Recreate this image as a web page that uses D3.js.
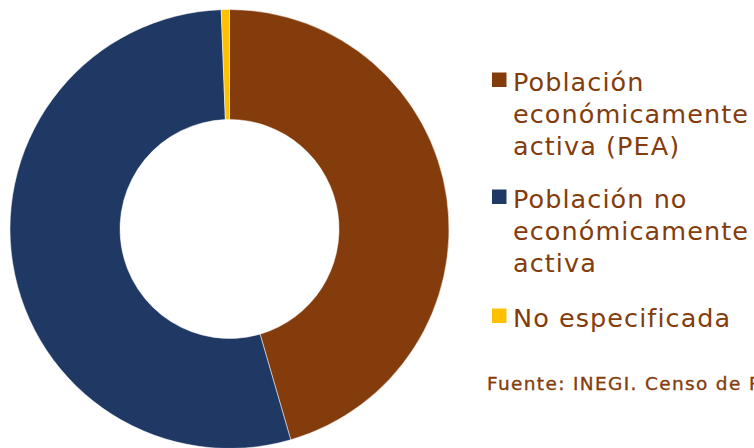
<!DOCTYPE html>
<html><head><meta charset="utf-8">
<script src="https://cdn.jsdelivr.net/npm/d3@7"></script>
<style>
html,body{margin:0;padding:0;background:#fff;overflow:hidden;width:754px;height:448px}
svg{display:block}
</style></head>
<body>
<svg id="chart" width="754" height="448"></svg>
<script>
const categories = ["Población económicamente activa (PEA)", "Población no económicamente activa", "No especificada"];
const legendLines = [["Población", "económicamente", "activa (PEA)"], ["Población no", "económicamente", "activa"], ["No especificada"]];
const values = [45.5, 53.9, 0.6];
const colors = ["#843C0C", "#1F3864", "#FFC000"];
const sourceText = "Fuente: INEGI. Censo de Población y Vivienda 2020.";

const svg = d3.select("#chart");
const cx = 229.5, cy = 229, rOuter = 219.5, rInner = 109.5;

const pie = d3.pie().sort(null).value(d => d);
const arc = d3.arc().innerRadius(rInner).outerRadius(rOuter);

svg.append("g").attr("transform", `translate(${cx},${cy})`)
  .selectAll("path").data(pie(values)).join("path")
  .attr("d", arc)
  .attr("fill", (d, i) => colors[i])
  .attr("stroke", "#fff").attr("stroke-width", 0.5);

const textColor = "#843C0C";
const font = "'DejaVu Sans', sans-serif";

function spacingFor(str, size, target, weight) {
  const t = svg.append("text").attr("font-family", font).attr("font-size", size)
    .attr("font-weight", weight || "normal").text(str);
  const w = t.node().getComputedTextLength();
  t.remove();
  return (target - w) / str.length;
}

const fs = 25.5;
const ls = spacingFor("económicamente", fs, 236);
const lineH = 32;
const baselines = [90.5, 207.5, 326.5];
const legend = svg.append("g");
legendLines.forEach((lines, i) => {
  legend.append("rect")
    .attr("x", 492).attr("y", baselines[i] - 18).attr("width", 14.5).attr("height", 14.5)
    .attr("fill", colors[i]);
  const t = legend.append("text")
    .attr("x", 513).attr("y", baselines[i])
    .attr("font-family", font).attr("font-size", fs).attr("fill", textColor)
    .attr("letter-spacing", ls);
  lines.forEach((l, j) => {
    t.append("tspan").attr("x", 513).attr("y", baselines[i] + j * lineH).text(l);
  });
});

const sfs = 18.5;
const sls = spacingFor("Fuente: INEGI. Censo de ", sfs, 256);
svg.append("text")
  .attr("x", 487).attr("y", 390)
  .attr("font-family", font).attr("font-size", sfs)
  .attr("fill", textColor).attr("stroke", textColor).attr("stroke-width", 0.35)
  .attr("letter-spacing", sls)
  .text(sourceText);
</script>
</body></html>
